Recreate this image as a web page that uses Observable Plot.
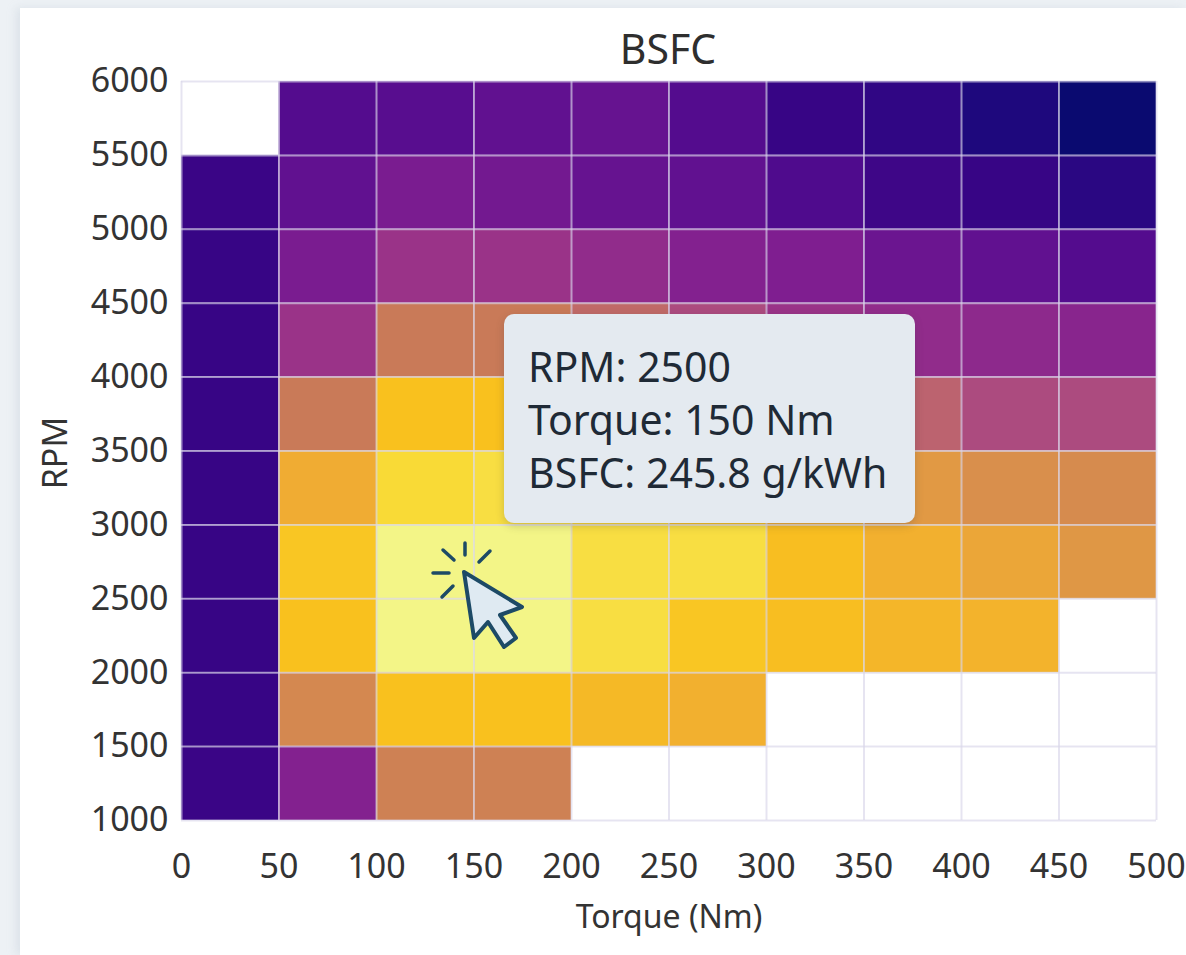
<!DOCTYPE html>
<html><head><meta charset="utf-8">
<script src="https://cdn.jsdelivr.net/npm/d3@7"></script>
<script src="https://cdn.jsdelivr.net/npm/@observablehq/plot@0.6"></script>
<style>
html,body{margin:0;padding:0;width:1186px;height:955px;overflow:hidden;background:#edf1f5;font-family:"Noto Sans",sans-serif;}
#card{position:absolute;left:20px;top:8px;right:0;bottom:0;background:#fff;box-shadow:-4px 0 8px rgba(190,200,212,.35);}
#chart{position:absolute;left:0;top:0;}
#title{position:absolute;left:568px;width:200px;top:22px;text-align:center;font-size:41px;line-height:52px;color:#2e2e2e;}
#tip{position:absolute;left:504px;top:314px;width:411px;height:209px;box-sizing:border-box;padding:26px 0 0 24px;background:#e4eaf0;border-radius:10px;box-shadow:0 3px 8px rgba(60,60,60,.22);font-size:41px;line-height:53px;color:#1f2a36;white-space:nowrap;}
#cursor{position:absolute;left:0;top:0;pointer-events:none;}
</style></head><body>
<div id="card"></div>
<div id="chart"></div>
<div id="title">BSFC</div>
<div id="tip"></div>
<svg id="cursor" width="1186" height="955" fill="none" stroke="#1d4a66" stroke-linecap="round" stroke-linejoin="round">
<g stroke-width="3.5"><path d="M465 543V555M443 550L454 560M490 551L479 562M433 573H449M442 597L453 586"/></g>
<path d="M464 572L522 607L500 615L516 638L504 647L488 622L474 638Z" fill="#dfeaf2" stroke-width="4"/>
</svg>
<script>
const title = "BSFC";
const xLabel = "Torque (Nm)";
const yLabel = "RPM";
const torqueEdges = [0,50,100,150,200,250,300,350,400,450,500];
const rpmEdges = [1000,1500,2000,2500,3000,3500,4000,4500,5000,5500,6000];
// BSFC (g/kWh) per torque bin, one array per RPM band; null = no data
const rpm1000 = [390,358,310,310,null,null,null,null,null,null];
const rpm1500 = [392,305,270,270,276,282,null,null,null,null];
const rpm2000 = [392,270,246,246,258,268,272,278,280,null];
const rpm2500 = [392,268,246,246,258,258,272,282,288,296];
const rpm3000 = [392,285,260,258,262,270,285,295,300,303];
const rpm3500 = [392,315,270,270,280,300,312,325,335,335];
const rpm4000 = [392,345,315,315,322,335,345,350,352,355];
const rpm4500 = [392,362,345,345,350,358,360,368,372,378];
const rpm5000 = [390,372,362,365,370,372,380,388,392,400];
const rpm5500 = [null,378,376,372,370,378,392,396,408,422];
const rows = [rpm1000,rpm1500,rpm2000,rpm2500,rpm3000,rpm3500,rpm4000,rpm4500,rpm5000,rpm5500];
const colorDomain = [246,260,270,285,300,315,330,345,360,375,390,405,422];
const colorRange = ["#f3f587","#f9da36","#f9c11e","#f0ac33","#d98f4c","#c97a58","#b5577a","#9a3388","#7f1e90","#5a0e90","#3a0586","#220880","#0a0a70"];
const tooltipLines = ["RPM: 2500","Torque: 150 Nm","BSFC: 245.8 g/kWh"];

const cells = rows.flatMap((row,j)=>row.map((v,i)=>({
  t0:torqueEdges[i],t1:torqueEdges[i+1],r0:rpmEdges[j],r1:rpmEdges[j+1],bsfc:v
}))).filter(d=>d.bsfc!=null);

const font = "'Noto Sans',sans-serif";
const chart = Plot.plot({
  width:1186,height:955,
  marginLeft:181,marginRight:30,marginTop:81,marginBottom:135,
  style:{background:"transparent",fontFamily:font,color:"#333"},
  x:{domain:[0,500],ticks:torqueEdges,label:null},
  y:{domain:[1000,6000],ticks:rpmEdges,label:null},
  color:{type:"linear",domain:colorDomain,range:colorRange},
  marks:[
    Plot.rect(cells,{x1:"t0",x2:"t1",y1:"r0",y2:"r1",fill:"bsfc",inset:0}),
    Plot.gridX(torqueEdges,{stroke:"#d9d6ea",strokeOpacity:.65,strokeWidth:2}),
    Plot.gridY(rpmEdges,{stroke:"#d9d6ea",strokeOpacity:.65,strokeWidth:2}),
    Plot.axisX({ticks:torqueEdges,tickSize:0,tickPadding:33,fontSize:34,label:null,tickFormat:d=>String(d)}),
    Plot.axisY({ticks:rpmEdges,tickSize:0,tickPadding:13,fontSize:34,label:null,tickFormat:d=>String(d)}),
    Plot.text([xLabel],{frameAnchor:"bottom",dy:107,fontSize:32,fill:"#333"}),
    Plot.text([yLabel],{frameAnchor:"left",textAnchor:"middle",rotate:-90,dx:-125,dy:2,fontSize:34,fill:"#333"})
  ]
});
document.getElementById("chart").appendChild(chart);
document.getElementById("title").textContent = title;
document.getElementById("tip").innerHTML = tooltipLines.map(s=>`<div>${s}</div>`).join("");
</script>
</body></html>
